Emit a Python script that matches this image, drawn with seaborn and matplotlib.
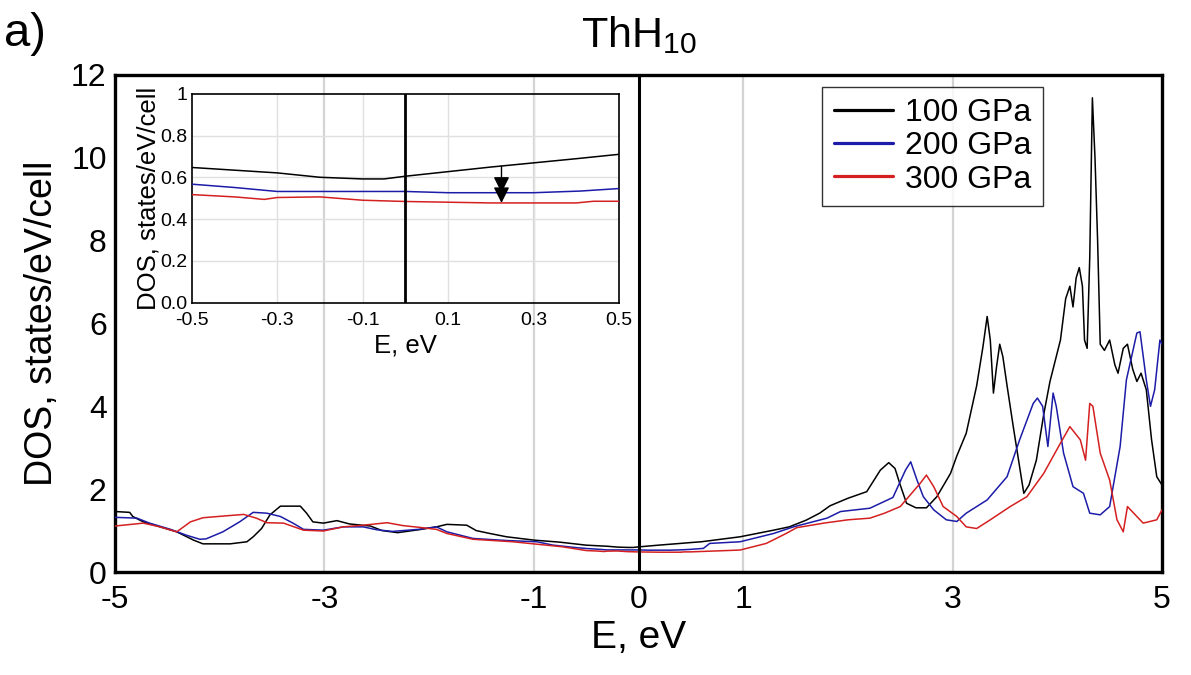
import numpy as np
import pandas as pd
import matplotlib
matplotlib.use("Agg")
import matplotlib.pyplot as plt
import seaborn as sns

# ---------------- data ----------------
E_100 = [-5.0, -4.86, -4.83, -4.73, -4.57, -4.41, -4.25, -4.16, -3.90, -3.74, -3.68, -3.60,
         -3.52, -3.42, -3.23, -3.17, -3.11, -3.01, -2.88, -2.76, -2.56, -2.45, -2.30, -2.10,
         -1.93, -1.83, -1.64, -1.55, -1.42, -1.26, -1.00, -0.75, -0.50, -0.40, -0.30, -0.20,
         -0.10, -0.05, 0.0, 0.1, 0.2, 0.3, 0.4, 0.5, 0.6, 0.97, 1.29, 1.44, 1.60, 1.73, 1.83,
         2.00, 2.18, 2.31, 2.39, 2.45, 2.50, 2.56, 2.65, 2.75, 2.85, 2.98, 3.04, 3.13, 3.23,
         3.29, 3.33, 3.36, 3.39, 3.42, 3.45, 3.48, 3.52, 3.58, 3.64, 3.68, 3.73, 3.80, 3.87,
         3.93, 3.98, 4.03, 4.08, 4.12, 4.15, 4.18, 4.21, 4.24, 4.26, 4.285, 4.31, 4.335, 4.36,
         4.385, 4.41, 4.45, 4.50, 4.55, 4.58, 4.63, 4.67, 4.72, 4.76, 4.80, 4.85, 4.90, 4.95, 5.0]
DOS_100 = [1.46, 1.44, 1.34, 1.21, 1.09, 0.97, 0.77, 0.68, 0.68, 0.73, 0.85, 1.05,
           1.38, 1.59, 1.59, 1.42, 1.21, 1.18, 1.24, 1.16, 1.11, 1.00, 0.95, 1.02,
           1.09, 1.15, 1.13, 1.00, 0.93, 0.85, 0.77, 0.72, 0.648, 0.635, 0.622, 0.601,
           0.593, 0.593, 0.606, 0.628, 0.650, 0.670, 0.690, 0.711, 0.73, 0.85, 1.01, 1.09, 1.25, 1.42, 1.60,
           1.78, 1.94, 2.46, 2.64, 2.50, 2.10, 1.66, 1.55, 1.55, 1.82, 2.38, 2.80, 3.35, 4.50,
           5.44, 6.17, 5.60, 4.32, 4.96, 5.50, 5.20, 4.50, 3.50, 2.54, 1.90, 2.10, 2.70, 3.80,
           4.60, 5.10, 5.60, 6.60, 6.90, 6.40, 7.10, 7.35, 6.90, 5.60, 5.40, 7.60, 11.45, 10.0,
           8.00, 5.50, 5.35, 5.60, 5.00, 4.80, 5.40, 5.50, 4.90, 4.60, 4.80, 4.40, 3.20, 2.30, 2.10]

E_200 = [-5.0, -4.79, -4.67, -4.47, -4.32, -4.19, -4.13, -3.97, -3.81, -3.68, -3.55, -3.42,
         -3.30, -3.20, -3.01, -2.82, -2.63, -2.50, -2.35, -2.10, -1.93, -1.83, -1.58, -1.26,
         -0.97, -0.82, -0.60, -0.50, -0.40, -0.30, 0.0, 0.1, 0.3, 0.41, 0.5, 0.62, 0.68, 0.97,
         1.29, 1.48, 1.80, 1.93, 2.21, 2.43, 2.55, 2.60, 2.66, 2.72, 2.82, 2.94, 3.04, 3.13,
         3.33, 3.52, 3.64, 3.77, 3.81, 3.86, 3.91, 3.96, 3.99, 4.06, 4.15, 4.25, 4.31, 4.41,
         4.50, 4.60, 4.66, 4.76, 4.79, 4.85, 4.89, 4.93, 4.98, 5.0]
DOS_200 = [1.32, 1.30, 1.18, 1.03, 0.89, 0.79, 0.80, 0.97, 1.21, 1.44, 1.42, 1.34,
           1.18, 1.03, 1.01, 1.09, 1.09, 1.02, 0.98, 1.03, 1.09, 0.97, 0.81, 0.76,
           0.73, 0.65, 0.59, 0.568, 0.552, 0.533, 0.533, 0.527, 0.527, 0.535, 0.547, 0.57, 0.69, 0.73,
           0.93, 1.09, 1.30, 1.46, 1.54, 1.80, 2.46, 2.66, 2.22, 1.82, 1.50, 1.26, 1.22, 1.42,
           1.74, 2.30, 3.19, 4.07, 4.20, 4.00, 3.03, 4.32, 4.00, 2.87, 2.06, 1.90, 1.42, 1.38,
           1.58, 3.03, 4.64, 5.77, 5.80, 4.64, 4.00, 4.40, 5.60, 5.50]

E_300 = [-5.0, -4.73, -4.57, -4.41, -4.28, -4.16, -3.97, -3.77, -3.65, -3.55, -3.39, -3.20,
         -3.01, -2.82, -2.63, -2.40, -2.25, -2.10, -1.93, -1.83, -1.58, -1.20, -0.73, -0.50,
         -0.40, -0.33, -0.30, -0.20, -0.10, 0.0, 0.2, 0.4, 0.44, 0.5, 0.97, 1.22, 1.41, 1.51,
         1.77, 2.00, 2.21, 2.35, 2.50, 2.69, 2.75, 2.82, 2.91, 3.04, 3.13, 3.23, 3.36, 3.55,
         3.71, 3.87, 4.03, 4.12, 4.22, 4.27, 4.31, 4.34, 4.41, 4.50, 4.57, 4.63, 4.67, 4.73,
         4.82, 4.95, 5.0]
DOS_300 = [1.11, 1.18, 1.09, 0.97, 1.21, 1.31, 1.35, 1.39, 1.30, 1.19, 1.18, 1.01,
           0.99, 1.09, 1.13, 1.19, 1.12, 1.08, 1.03, 0.93, 0.79, 0.73, 0.61, 0.518,
           0.507, 0.495, 0.504, 0.507, 0.491, 0.485, 0.478, 0.478, 0.486, 0.486, 0.53, 0.69, 0.93, 1.07,
           1.18, 1.26, 1.30, 1.42, 1.58, 2.14, 2.34, 2.06, 1.58, 1.34, 1.09, 1.05, 1.26, 1.58,
           1.82, 2.38, 3.11, 3.51, 3.19, 2.70, 4.07, 4.00, 2.87, 2.22, 1.26, 0.97, 1.58, 1.42,
           1.18, 1.26, 1.50]

series_labels = ["100 GPa", "200 GPa", "300 GPa"]
series_colors = ["#000000", "#1c1ca8", "#d42020"]

main_xticks = [-5, -3, -1, 0, 1, 3, 5]
main_yticks = [0, 2, 4, 6, 8, 10, 12]
inset_xticks = [-0.5, -0.3, -0.1, 0.1, 0.3, 0.5]
inset_yticks = [0.0, 0.2, 0.4, 0.6, 0.8, 1.0]
inset_yticklabels = ["0.0", "0.2", "0.4", "0.6", "0.8", "1"]
arrow_E = 0.225

# ---------------- style ----------------
sns.set_theme(style="white")
plt.rcParams["font.family"] = ["Liberation Sans", "DejaVu Sans"]
plt.rcParams["mathtext.fontset"] = "custom"
plt.rcParams["mathtext.rm"] = "Liberation Sans"
plt.rcParams["mathtext.default"] = "regular"
plt.rcParams["text.color"] = "black"
plt.rcParams["axes.labelcolor"] = "black"
plt.rcParams["axes.titlecolor"] = "black"
plt.rcParams["legend.labelcolor"] = "black"

frames = []
for E, D, lab in zip([E_100, E_200, E_300], [DOS_100, DOS_200, DOS_300], series_labels):
    frames.append(pd.DataFrame({"E": E, "DOS": D, "P": lab}))
df = pd.concat(frames, ignore_index=True)
palette = dict(zip(series_labels, series_colors))

fig = plt.figure(figsize=(11.91, 6.75), dpi=100)
ax = fig.add_axes([115 / 1191, 1 - 572 / 675, (1162 - 115) / 1191, (572 - 75) / 675])

sns.lineplot(data=df, x="E", y="DOS", hue="P", palette=palette, estimator=None,
             sort=False, lw=1.1, ax=ax, zorder=3)

ax.set_xlim(-5, 5)
ax.set_ylim(0, 12)
ax.set_xticks(main_xticks)
ax.set_xticklabels([str(t) for t in main_xticks])
ax.set_yticks(main_yticks)
ax.tick_params(axis="both", length=0, labelsize=23, colors="black")
ax.tick_params(axis="x", pad=9)
ax.tick_params(axis="y", pad=6)
for g in [-3, -1, 1, 3]:
    ax.axvline(g, color="#d4d4d4", lw=1.6, zorder=1)
ax.axvline(0, color="black", lw=2.2, zorder=4)
for s in ax.spines.values():
    s.set_linewidth(2.4)
    s.set_color("black")
ax.set_xlabel("E, eV", fontsize=28, labelpad=4)
ax.set_ylabel("DOS, states/eV/cell", fontsize=27, labelpad=8)
ax.set_title(r"ThH$_{10}$", fontsize=31, pad=20)

leg = ax.legend(loc="upper right", bbox_to_anchor=(1043 / 1191, 1 - 87 / 675),
                bbox_transform=fig.transFigure, borderaxespad=0, fontsize=23,
                frameon=True, fancybox=False, handlelength=1.85, handletextpad=0.4,
                labelspacing=0.1, borderpad=0.35)
leg.get_frame().set_edgecolor("black")
leg.get_frame().set_linewidth(1.0)
for h in leg.get_lines():
    h.set_linewidth(2.3)

fig.text(4 / 1191, 1 - 46 / 675, "a)", fontsize=34, va="baseline", ha="left")

# ---------------- inset ----------------
axi = fig.add_axes([191.7 / 1191, 1 - 302.7 / 675, (619 - 191.7) / 1191, (302.7 - 94) / 675])
axi.patch.set_alpha(0.0)
sns.lineplot(data=df, x="E", y="DOS", hue="P", palette=palette, estimator=None,
             sort=False, lw=1.1, ax=axi, legend=False, zorder=3)
axi.set_xlim(-0.5, 0.5)
axi.set_ylim(0, 1)
axi.set_xticks(inset_xticks)
axi.set_xticklabels([f"{t:.1f}" for t in inset_xticks])
axi.set_yticks(inset_yticks)
axi.set_yticklabels(inset_yticklabels)
axi.tick_params(axis="both", length=0, labelsize=14, colors="black")
axi.tick_params(axis="x", pad=7)
axi.tick_params(axis="y", pad=3)
for g in [-0.3, -0.1, 0.1, 0.3]:
    axi.axvline(g, color="#e0e0e0", lw=1.0, zorder=1)
for g in [0.2, 0.4, 0.6, 0.8]:
    axi.axhline(g, color="#e0e0e0", lw=1.0, zorder=1)
axi.axvline(0, color="black", lw=2.0, zorder=4)
for s in axi.spines.values():
    s.set_linewidth(1.2)
    s.set_color("black")
axi.set_xlabel("E, eV", fontsize=18.5, labelpad=3)
axi.set_ylabel("DOS, states/eV/cell", fontsize=18.5, labelpad=0)

y_a = np.interp(arrow_E, E_100, DOS_100)
y_b = np.interp(arrow_E, E_200, DOS_200)
y_c = np.interp(arrow_E, E_300, DOS_300)
arrow_kw = dict(arrowstyle="-|>,head_length=0.6,head_width=0.3", color="black", lw=1.0,
                mutation_scale=16, shrinkA=0, shrinkB=0)
axi.annotate("", xy=(arrow_E, y_b), xytext=(arrow_E, y_a), arrowprops=arrow_kw, zorder=5)
axi.annotate("", xy=(arrow_E, y_c), xytext=(arrow_E, y_b), arrowprops=arrow_kw, zorder=5)

fig.savefig("out.png", dpi=100)
